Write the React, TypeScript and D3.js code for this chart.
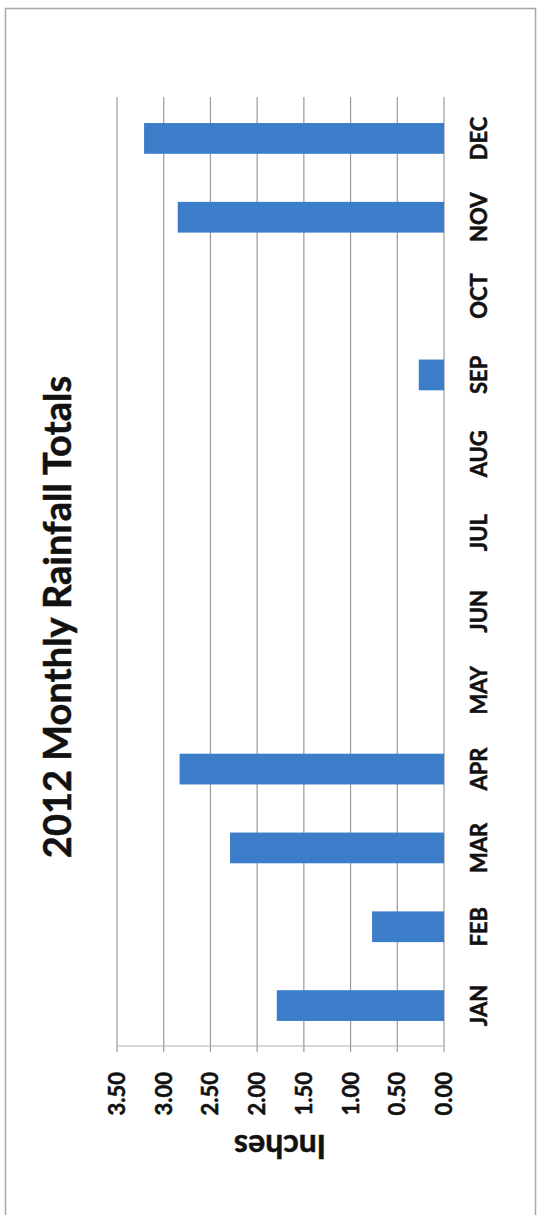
import React from "react";
import * as d3 from "d3";

const months = ["JAN", "FEB", "MAR", "APR", "MAY", "JUN", "JUL", "AUG", "SEP", "OCT", "NOV", "DEC"];
const rainfall = [1.79, 0.77, 2.29, 2.83, 0, 0, 0, 0, 0.27, 0, 2.85, 3.21];
const tickValues = [0, 0.5, 1, 1.5, 2, 2.5, 3, 3.5];
const title = "2012 Monthly Rainfall Totals";
const axisTitle = "Inches";

const W = 539;
const H = 1215;
const FONT = "Lato, 'Open Sans', sans-serif";

export default function App() {
  const x = d3.scaleLinear().domain([0, 3.5]).range([444, 117]);
  const y = d3
    .scaleBand<string>()
    .domain(months)
    .range([1045, 99])
    .paddingInner(0.61)
    .paddingOuter(0.305);
  const fmt = d3.format(".2f");
  const gridTop = 97;
  const gridBottom = 1052;
  const axisY = 1046;
  const textProps = {
    fontFamily: FONT,
    fontWeight: 700,
    fill: "#111",
    stroke: "#111",
    strokeWidth: 0.5,
  };

  return (
    <svg
      width={W}
      height={H}
      style={{ position: "absolute", left: 0, top: 0, background: "#fff" }}
    >
      <rect x={0} y={0} width={W} height={H} fill="#fff" />
      <rect x={5.5} y={8.5} width={530} height={H} fill="none" stroke="#a8a8a8" strokeWidth={1.5} />
      {/* gridlines */}
      {tickValues.map((t) => (
        <line
          key={"g" + t}
          x1={x(t)}
          x2={x(t)}
          y1={gridTop}
          y2={gridBottom}
          stroke="#9a9a9a"
          strokeWidth={1.2}
        />
      ))}
      <line x1={x(3.5)} x2={x(0)} y1={axisY} y2={axisY} stroke="#b0b0b0" strokeWidth={1.2} />
      {/* bars */}
      {months.map((m, i) => {
        const v = rainfall[i];
        if (!v) return null;
        return (
          <rect
            key={m}
            x={x(v)}
            y={y(m)}
            width={x(0) - x(v)}
            height={y.bandwidth()}
            fill="#3b7dc8"
          />
        );
      })}
      {/* category labels */}
      {months.map((m) => (
        <text
          key={"l" + m}
          transform={`translate(487,${(y(m) as number) + y.bandwidth() / 2}) rotate(-90)`}
          textAnchor="middle"
          fontSize={22}
          {...textProps}
        >
          {m}
        </text>
      ))}
      {/* value tick labels */}
      {tickValues.map((t) => (
        <text
          key={"t" + t}
          transform={`translate(${x(t) + 8},1072) rotate(-90)`}
          textAnchor="end"
          fontSize={22}
          {...textProps}
        >
          {fmt(t)}
        </text>
      ))}
      {/* axis title */}
      <text
        transform={`translate(280,1135) rotate(180)`}
        textAnchor="middle"
        fontSize={32}
        {...textProps}
      >
        {axisTitle}
      </text>
      {/* chart title */}
      <text
        transform={`translate(71,617) rotate(-90)`}
        textAnchor="middle"
        fontSize={38}
        {...textProps}
      >
        {title}
      </text>
    </svg>
  );
}
